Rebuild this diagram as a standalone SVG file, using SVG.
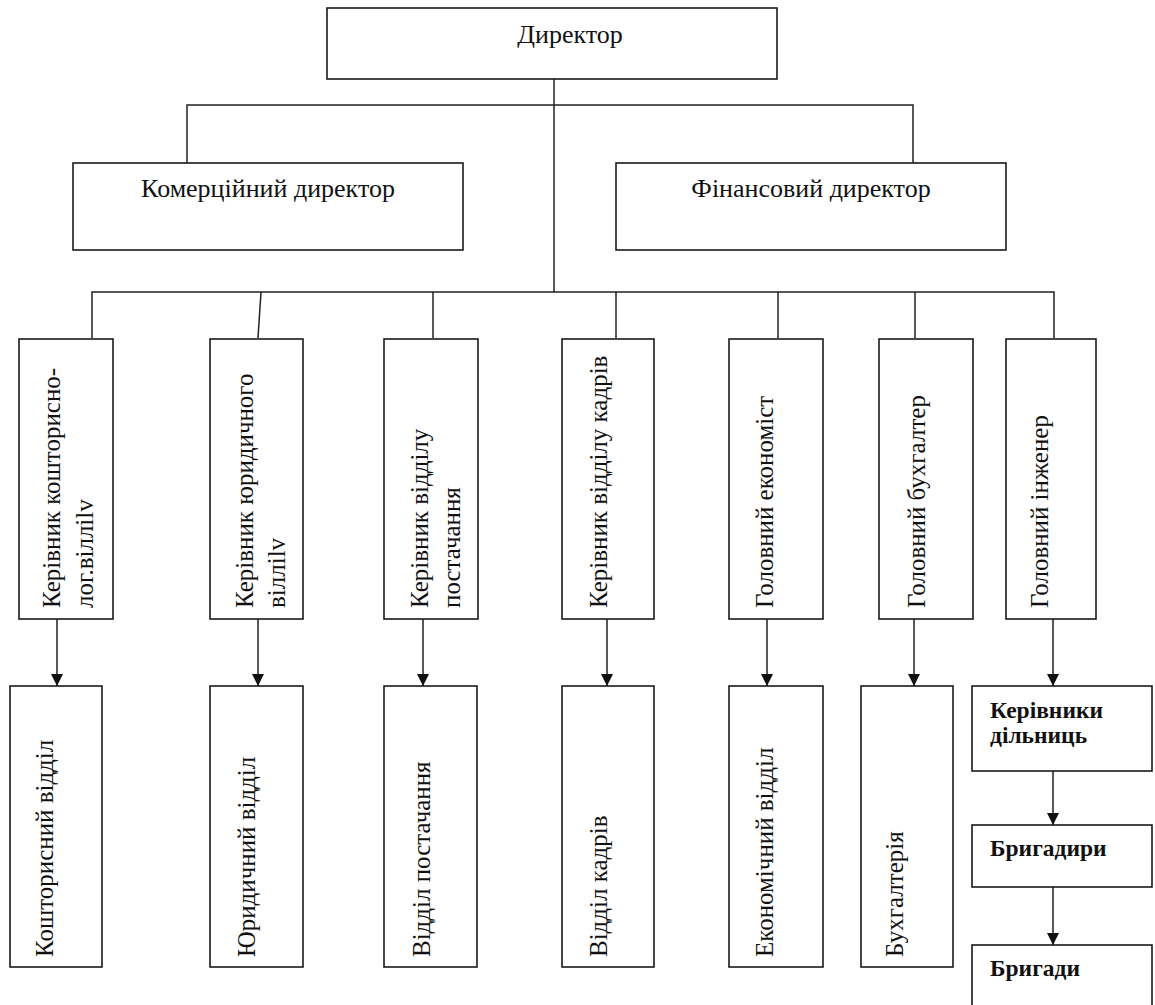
<svg xmlns="http://www.w3.org/2000/svg" width="1155" height="1005" viewBox="0 0 1155 1005">
<style>
.box{fill:#fff;stroke:#1a1a1a;stroke-width:1.6}
.ln{fill:none;stroke:#222;stroke-width:1.5}
.ar{fill:none;stroke:#222;stroke-width:1.5;marker-end:url(#ah)}
.h{font-family:"Liberation Serif","Times New Roman",serif;font-size:26px;fill:#111}
.v{font-family:"Liberation Serif","Times New Roman",serif;font-size:25px;fill:#111}
.b{font-family:"Liberation Serif","Times New Roman",serif;font-size:23.5px;font-weight:bold;fill:#111}
</style>
<defs>
<marker id="ah" viewBox="0 0 12 12" refX="12" refY="6" markerUnits="userSpaceOnUse" markerWidth="12" markerHeight="13" orient="auto">
<path d="M0,0 L12,6 L0,12 z" fill="#111"/>
</marker>
</defs>
<g id="connectors">
<path class="ln" d="M554,79 V292"/>
<path class="ln" d="M187,163 V105 H913 V163"/>
<path class="ln" d="M92,338 V292 H1054 V338"/>
<path class="ln" d="M261,292 L258,338"/>
<path class="ln" d="M433,292 V338"/>
<path class="ln" d="M616,292 V338"/>
<path class="ln" d="M778,292 V338"/>
<path class="ln" d="M915,292 V338"/>
<path class="ar" d="M57,619 V686"/>
<path class="ar" d="M258,619 V686"/>
<path class="ar" d="M423,619 V686"/>
<path class="ar" d="M607,619 V686"/>
<path class="ar" d="M767,619 V686"/>
<path class="ar" d="M914,619 V686"/>
<path class="ar" d="M1053,619 V686"/>
<path class="ar" d="M1053,771 V825"/>
<path class="ar" d="M1053,887 V945"/>
</g>
<g id="director"><rect class="box" x="327" y="8" width="450" height="71"/><text class="h" x="570" y="43" text-anchor="middle">Директор</text></g>
<g id="commercial-director"><rect class="box" x="73" y="163" width="390" height="87"/><text class="h" x="268" y="197" text-anchor="middle">Комерційний директор</text></g>
<g id="financial-director"><rect class="box" x="616" y="163" width="390" height="87"/><text class="h" x="811" y="197" text-anchor="middle">Фінансовий директор</text></g>
<g id="head-estimate"><rect class="box" x="19" y="339" width="94" height="280"/><text class="v" transform="translate(60,608) rotate(-90)"><tspan x="0" dy="0">Керівник кошторисно-</tspan><tspan x="0" dy="33">лог.вілліlv</tspan></text></g>
<g id="head-legal"><rect class="box" x="210" y="339" width="93" height="280"/><text class="v" transform="translate(253,608) rotate(-90)"><tspan x="0" dy="0">Керівник юридичного</tspan><tspan x="0" dy="32">вілліlv</tspan></text></g>
<g id="head-supply"><rect class="box" x="384" y="339" width="94" height="280"/><text class="v" transform="translate(428,608) rotate(-90)"><tspan x="0" dy="0">Керівник відділу</tspan><tspan x="0" dy="32">постачання</tspan></text></g>
<g id="head-hr"><rect class="box" x="562" y="339" width="92" height="280"/><text class="v" transform="translate(607,608) rotate(-90)">Керівник відділу кадрів</text></g>
<g id="chief-economist"><rect class="box" x="729" y="339" width="94" height="280"/><text class="v" transform="translate(773,608) rotate(-90)">Головний економіст</text></g>
<g id="chief-accountant"><rect class="box" x="879" y="339" width="94" height="280"/><text class="v" transform="translate(925,608) rotate(-90)">Головний бухгалтер</text></g>
<g id="chief-engineer"><rect class="box" x="1006" y="339" width="90" height="280"/><text class="v" transform="translate(1048,608) rotate(-90)">Головний інженер</text></g>
<g id="estimate-dept"><rect class="box" x="10" y="686" width="92" height="281"/><text class="v" transform="translate(53,957) rotate(-90)">Кошторисний відділ</text></g>
<g id="legal-dept"><rect class="box" x="210" y="686" width="93" height="281"/><text class="v" transform="translate(255,957) rotate(-90)">Юридичний відділ</text></g>
<g id="supply-dept"><rect class="box" x="384" y="686" width="93" height="281"/><text class="v" transform="translate(430,957) rotate(-90)">Відділ постачання</text></g>
<g id="hr-dept"><rect class="box" x="562" y="686" width="92" height="281"/><text class="v" transform="translate(607,957) rotate(-90)">Відділ кадрів</text></g>
<g id="economic-dept"><rect class="box" x="729" y="686" width="94" height="281"/><text class="v" transform="translate(773,957) rotate(-90)">Економічний відділ</text></g>
<g id="accounting"><rect class="box" x="861" y="686" width="92" height="281"/><text class="v" transform="translate(903,957) rotate(-90)">Бухгалтерія</text></g>
<g id="site-managers"><rect class="box" x="972" y="686" width="180" height="85"/><text class="b" x="990" y="718">Керівники</text><text class="b" x="990" y="743">дільниць</text></g>
<g id="foremen"><rect class="box" x="972" y="825" width="180" height="62"/><text class="b" x="990" y="856">Бригадири</text></g>
<g id="brigades"><rect class="box" x="972" y="945" width="180" height="70"/><text class="b" x="990" y="976">Бригади</text></g>
</svg>
